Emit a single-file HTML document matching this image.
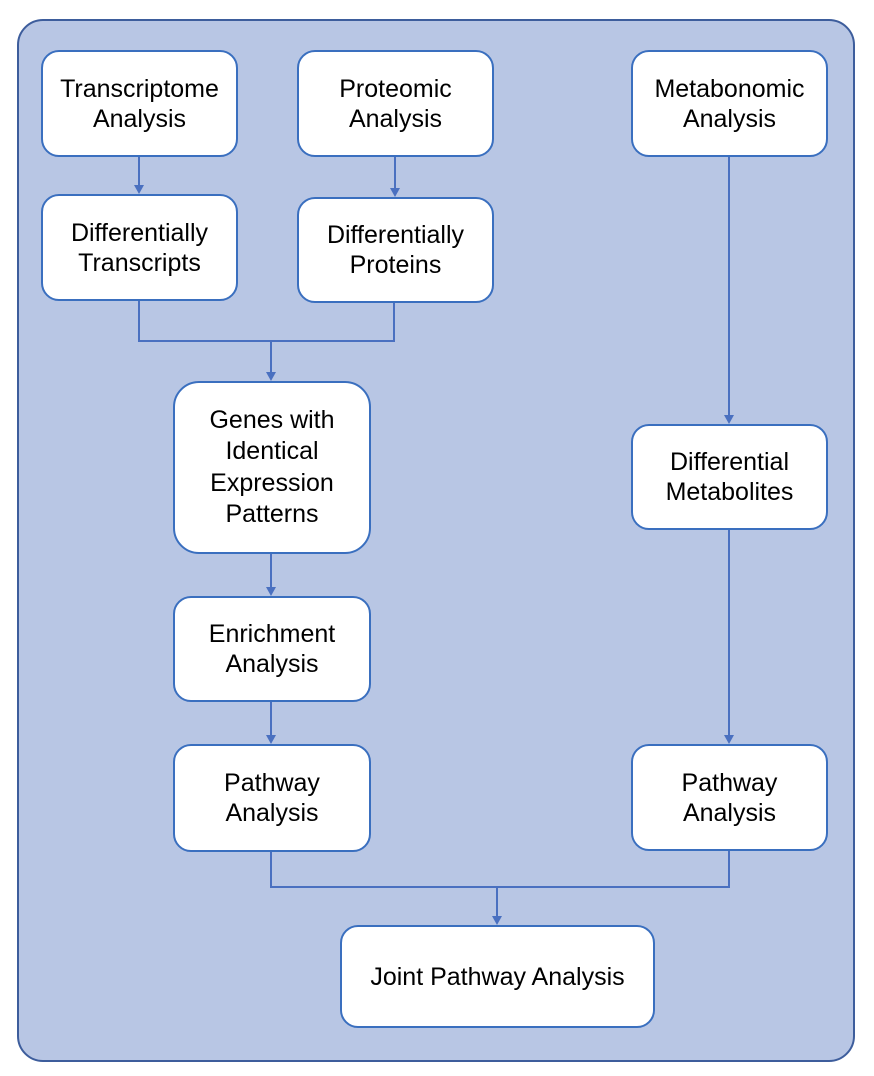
<!DOCTYPE html>
<html><head><style>
body{margin:0;width:874px;height:1076px;background:#fff;position:relative;font-family:"Liberation Sans",Arial,sans-serif;}
.outer{position:absolute;left:17px;top:19px;width:834px;height:1039px;border:2px solid #3d5d9c;border-radius:26px;background:#b8c6e4;}
.n{position:absolute;box-sizing:border-box;background:#fff;border:2.5px solid #3a6fbf;border-radius:18px;display:flex;align-items:center;justify-content:center;text-align:center;font-size:25px;line-height:30px;color:#000;}
svg{position:absolute;left:0;top:0;}
</style></head><body>
<div class="outer"></div>
<svg width="874" height="1076">
<g stroke="#4a70c0" stroke-width="2" fill="none">
<path d="M139 156V186"/>
<path d="M395 156V189"/>
<path d="M139 300V341H394V302"/>
<path d="M271 341V373"/>
<path d="M271 553V588"/>
<path d="M271 701V736"/>
<path d="M729 156V416"/>
<path d="M729 529V736"/>
<path d="M271 851V887H729V850"/>
<path d="M497 887V917"/>
</g>
<g fill="#4a70c0">
<path d="M134 185L144 185L139 194Z"/>
<path d="M390 188L400 188L395 197Z"/>
<path d="M266 372L276 372L271 381Z"/>
<path d="M266 587L276 587L271 596Z"/>
<path d="M266 735L276 735L271 744Z"/>
<path d="M724 415L734 415L729 424Z"/>
<path d="M724 735L734 735L729 744Z"/>
<path d="M492 916L502 916L497 925Z"/>
</g>
</svg>
<div class="n" style="left:41px;top:50px;width:197px;height:107px">Transcriptome<br>Analysis</div>
<div class="n" style="left:297px;top:50px;width:197px;height:107px">Proteomic<br>Analysis</div>
<div class="n" style="left:631px;top:50px;width:197px;height:107px">Metabonomic<br>Analysis</div>
<div class="n" style="left:41px;top:194px;width:197px;height:107px">Differentially<br>Transcripts</div>
<div class="n" style="left:297px;top:197px;width:197px;height:106px">Differentially<br>Proteins</div>
<div class="n" style="left:173px;top:381px;width:198px;height:173px;border-radius:26px;line-height:31.5px">Genes with<br>Identical<br>Expression<br>Patterns</div>
<div class="n" style="left:173px;top:596px;width:198px;height:106px">Enrichment<br>Analysis</div>
<div class="n" style="left:173px;top:744px;width:198px;height:108px">Pathway<br>Analysis</div>
<div class="n" style="left:631px;top:424px;width:197px;height:106px">Differential<br>Metabolites</div>
<div class="n" style="left:631px;top:744px;width:197px;height:107px">Pathway<br>Analysis</div>
<div class="n" style="left:340px;top:925px;width:315px;height:103px">Joint Pathway Analysis</div>
</body></html>
